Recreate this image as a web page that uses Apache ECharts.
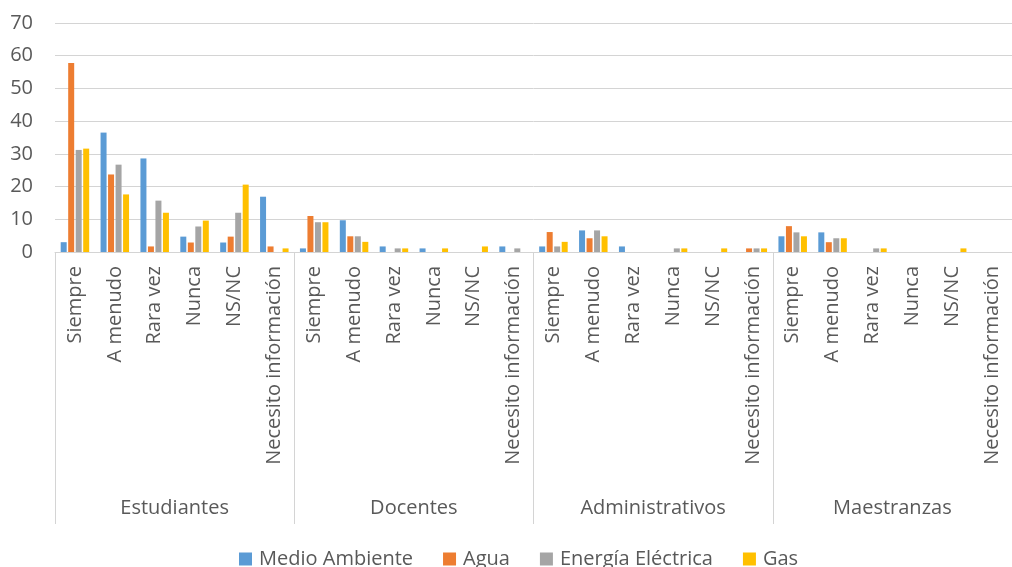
<!DOCTYPE html>
<html>
<head>
<meta charset="utf-8">
<script src="https://cdn.jsdelivr.net/npm/echarts@6/dist/echarts.min.js"></script>
<style>
  html, body { margin: 0; padding: 0; background: #fff; }
  #chart { width: 1012px; height: 567px; }
</style>
</head>
<body>
<div id="chart"></div>
<script>
// Answer options, repeated for every respondent group
const answers = ['Siempre', 'A menudo', 'Rara vez', 'Nunca', 'NS/NC', 'Necesito información'];
const groups = ['Estudiantes', 'Docentes', 'Administrativos', 'Maestranzas'];
const seriesNames = ['Medio Ambiente', 'Agua', 'Energía Eléctrica', 'Gas'];

// Percentages, ordered group by group (6 answers each)
const medioAmbiente = [3.0, 36.5, 28.6, 4.7, 2.9, 16.9,
                       1.1, 9.7, 1.7, 1.1, 0, 1.7,
                       1.7, 6.6, 1.7, 0, 0, 0,
                       4.8, 6.0, 0, 0, 0, 0];
const agua = [57.8, 23.7, 1.7, 2.9, 4.7, 1.7,
              11.0, 4.8, 0, 0, 0, 0,
              6.1, 4.2, 0, 0, 0, 1.1,
              7.9, 3.0, 0, 0, 0, 0];
const energiaElectrica = [31.2, 26.7, 15.7, 7.8, 12.0, 0,
                          9.1, 4.8, 1.1, 0, 0, 1.1,
                          1.7, 6.6, 0, 1.1, 0, 1.1,
                          6.0, 4.2, 1.1, 0, 0, 0];
const gas = [31.6, 17.6, 12.0, 9.6, 20.6, 1.1,
             9.1, 3.1, 1.1, 1.1, 1.7, 0,
             3.1, 4.8, 0, 1.1, 1.1, 1.1,
             4.8, 4.2, 1.1, 0, 1.1, 0];

const yTicks = { min: 0, max: 70, interval: 10 };
const colors = ['#5B9BD5', '#ED7D31', '#A5A5A5', '#FFC000'];

// Flattened inner-level categories
const categories = [];
groups.forEach(() => answers.forEach(a => categories.push(a)));

const FONT = 'Open Sans';
const TXT = '#595959';
const LINE = '#d4d4d4';

const chart = echarts.init(document.getElementById('chart'), null, { renderer: 'canvas' });

const values = [medioAmbiente, agua, energiaElectrica, gas];

chart.setOption({
  animation: false,
  color: colors,
  textStyle: { fontFamily: FONT },
  grid: { left: 55, right: -7, top: 23, bottom: 315, containLabel: false },
  legend: {
    data: seriesNames,
    left: 239,
    top: 549,
    padding: 0,
    icon: 'rect',
    itemWidth: 13,
    itemHeight: 13,
    itemGap: 30,
    textStyle: { fontFamily: FONT, fontSize: 20, color: TXT, padding: [0, 0, 0, 2] }
  },
  xAxis: [
    {
      // inner level: answer options
      type: 'category',
      data: categories,
      position: 'bottom',
      offset: 0,
      axisLine: { show: true, lineStyle: { color: LINE, width: 1 } },
      axisTick: { show: false },
      axisLabel: {
        interval: 0,
        rotate: 90,
        margin: 14,
        fontFamily: FONT,
        fontSize: 20,
        color: TXT
      }
    },
    {
      // outer level: respondent groups, long ticks act as separators
      type: 'category',
      data: groups,
      position: 'bottom',
      offset: 0,
      axisLine: { show: false },
      axisTick: { show: true, interval: 0, length: 272, lineStyle: { color: LINE, width: 1 } },
      axisLabel: {
        interval: 0,
        margin: 246,
        fontFamily: FONT,
        fontSize: 20,
        color: TXT
      }
    }
  ],
  yAxis: {
    type: 'value',
    min: yTicks.min,
    max: yTicks.max,
    interval: yTicks.interval,
    axisLine: { show: false },
    axisTick: { show: false },
    splitLine: { lineStyle: { color: LINE, width: 1 } },
    axisLabel: { margin: 22, fontFamily: FONT, fontSize: 20, color: TXT }
  },
  series: seriesNames.map((name, i) => ({
    name: name,
    type: 'bar',
    xAxisIndex: 0,
    data: values[i],
    barWidth: 6,
    barGap: '25%',
    itemStyle: { color: colors[i] }
  }))
});
</script>
</body>
</html>
